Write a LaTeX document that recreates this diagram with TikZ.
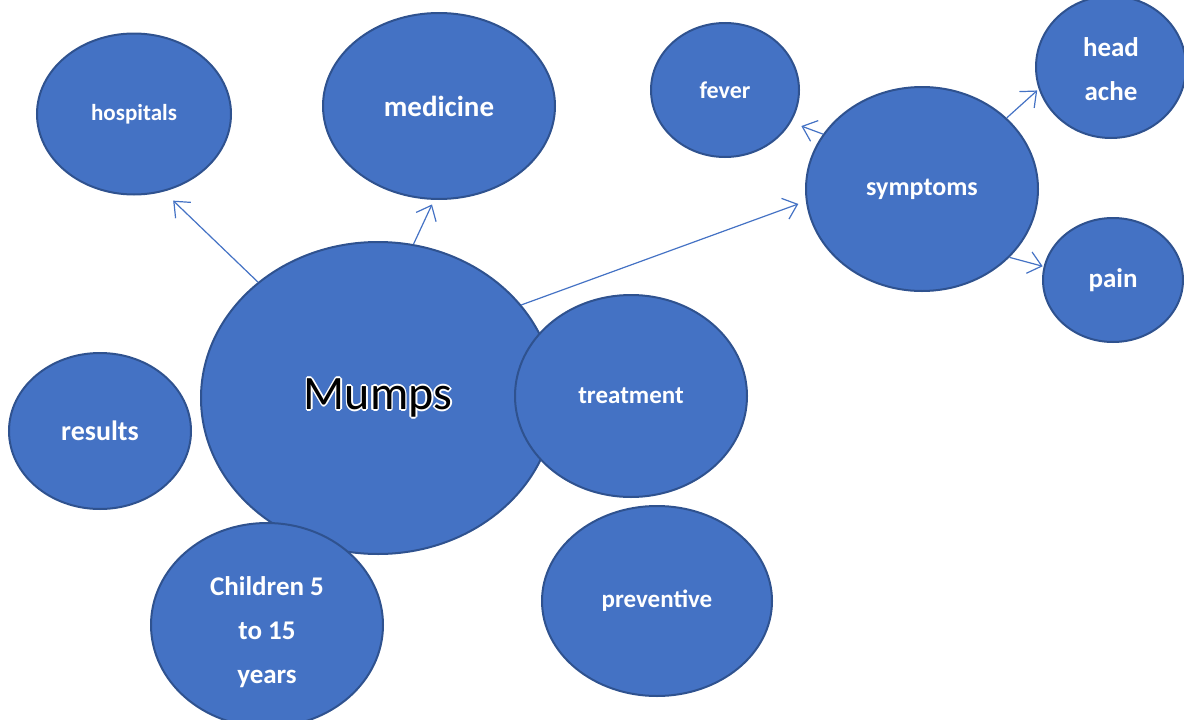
\documentclass[tikz,border=0pt]{standalone}
\usepackage{fontspec}
\setmainfont{Carlito}
\usetikzlibrary{shapes.geometric,arrows.meta}
\definecolor{bubblefill}{HTML}{4472C4}
\definecolor{bubbleedge}{HTML}{2F528F}
\newcommand{\fsz}[1]{\fontsize{#1}{44}\selectfont}
% white halo round black letters
\newcommand{\halotext}[1]{%
  \foreach \hx/\hy in {1.6/0,-1.6/0,0/1.6,0/-1.6,1.1/1.1,-1.1/1.1,1.1/-1.1,-1.1/-1.1}{%
    \rlap{\hspace{\hx pt}\raisebox{\hy pt}{\color{white}#1}}}%
  {\color{black}#1}}
\tikzset{
  bubble/.style={ellipse, draw=bubbleedge, line width=2pt, fill=bubblefill,
    text=white, align=center, inner sep=0pt},
  link/.style={draw=bubblefill, line width=1.2pt,
    -{Straight Barb[length=13pt,width=22pt]}},
}
\begin{document}
\begin{tikzpicture}[x=1pt,y=-1pt]
  \useasboundingbox (0,0) rectangle (1184,720);
  % outer topics
  \node[bubble, minimum width=194pt, minimum height=161pt, font=\bfseries\fsz{23}] (hospitals) at (134,114) {hospitals};
  \node[bubble, minimum width=232pt, minimum height=186pt, font=\bfseries\fsz{29}] (medicine) at (439,106) {medicine};
  \node[bubble, minimum width=148pt, minimum height=134pt, font=\bfseries\fsz{24}] (fever) at (725,90) {fever};
  \node[bubble, minimum width=150pt, minimum height=142pt, font=\bfseries\fsz{27}] (headache) at (1111,67) {\raisebox{-3pt}[\height][\depth]{\begin{tabular}{@{}c@{}}head\\ache\end{tabular}}};
  \node[bubble, minimum width=232pt, minimum height=204pt, font=\bfseries\fsz{26}] (symptoms) at (922,189) {symptoms};
  \node[bubble, minimum width=140pt, minimum height=124pt, font=\bfseries\fsz{27}] (pain) at (1113,280) {pain};
  \node[bubble, minimum width=182pt, minimum height=156pt, font=\bfseries\fsz{28}] (results) at (100,431) {results};
  \node[bubble, minimum width=230pt, minimum height=190pt, font=\bfseries\fsz{25}] (preventive) at (657,601) {preventive};
  % centre
  \node[bubble, minimum width=354pt, minimum height=312pt, font=\fsz{48}] (mumps) at (378,398) {\halotext{Mumps}};
  \node[bubble, minimum width=232pt, minimum height=202pt, font=\bfseries\fsz{25}] (treatment) at (631,396) {treatment};
  \node[bubble, minimum width=232pt, minimum height=204pt, font=\bfseries\fsz{27}] (children) at (267,625) {\raisebox{-6pt}[\height][\depth]{\begin{tabular}{@{}c@{}}Children 5\\to 15\\years\end{tabular}}};
  % links
  \draw[link, shorten >=13pt] (mumps.136.5) -- (hospitals.-69);
  \draw[link, shorten >=5pt] (mumps.77.6) -- (medicine.-93);
  \draw[link, shorten >=8pt] (mumps.33.3) -- (symptoms.186);
  \draw[link, shorten >=11pt] (symptoms.151) -- (fever.-26);
  \draw[link, shorten >=2pt] (symptoms.40) -- (headache.197);
  \draw[link, shorten >=1pt] (symptoms.-38) -- (pain.169);
\end{tikzpicture}
\end{document}
